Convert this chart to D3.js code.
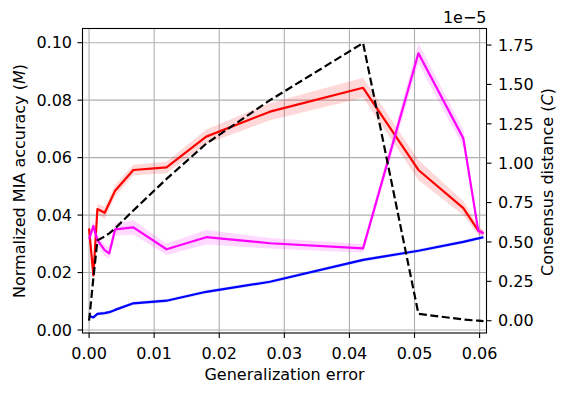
<!DOCTYPE html>
<html><head><meta charset="utf-8">
<script src="https://cdn.jsdelivr.net/npm/d3@7"></script>
<style>
html,body{margin:0;padding:0;background:#fff;}
svg text{font-family:"DejaVu Sans",sans-serif;fill:#000;}
</style></head>
<body>
<svg id="chart" width="568" height="395"></svg>
<script>
// ---- data ----
const genError = [0, 0.00066, 0.00128, 0.0024, 0.0031, 0.0040, 0.0068, 0.0119, 0.0180, 0.0278, 0.0421, 0.0506, 0.0575, 0.0598, 0.0606];
const redMean  = [0.0354, 0.0190, 0.0421, 0.0408, 0.0441, 0.0485, 0.0557, 0.0566, 0.0673, 0.0760, 0.0843, 0.0557, 0.0424, 0.0346, 0.0337];
const redStd   = [0.0015, 0.0010, 0.0018, 0.0022, 0.0020, 0.0020, 0.0018, 0.0020, 0.0025, 0.0030, 0.0035, 0.0035, 0.0025, 0.0015, 0.0010];
const magMean  = [0.0316, 0.0362, 0.0313, 0.0278, 0.0267, 0.0350, 0.0357, 0.0281, 0.0323, 0.0302, 0.0284, 0.0963, 0.0667, 0.0345, 0.0337];
const magStd   = [0.0015, 0.0018, 0.0020, 0.0020, 0.0020, 0.0022, 0.0025, 0.0020, 0.0025, 0.0018, 0.0015, 0.0035, 0.0030, 0.0012, 0.0010];
const blueMean = [0.0049, 0.0044, 0.0056, 0.0059, 0.0062, 0.0070, 0.0093, 0.0102, 0.0133, 0.0168, 0.0244, 0.0276, 0.0307, 0.0319, 0.0323];
const blueStd  = [0.0006, 0.0006, 0.0006, 0.0006, 0.0006, 0.0006, 0.0006, 0.0006, 0.0006, 0.0006, 0.0006, 0.0006, 0.0006, 0.0006, 0.0006];
const consensus = [0.0, 0.27, 0.51, 0.535, 0.555, 0.586, 0.70, 0.90, 1.124, 1.40, 1.763, 0.044, 0.008, 0.0, -0.003]; // x 1e-5
const xTicks = [0, 0.01, 0.02, 0.03, 0.04, 0.05, 0.06];
const yTicksL = [0, 0.02, 0.04, 0.06, 0.08, 0.10];
const yTicksR = [0, 0.25, 0.5, 0.75, 1.0, 1.25, 1.5, 1.75];

// ---- layout ----
const L = 82.5, R = 486.5, T = 28.5, B = 333;
const svg = d3.select("#chart");
const x = d3.scaleLinear().domain([-0.00101, 0.06106]).range([L, R]);
const yL = d3.scaleLinear().domain([-0.00104, 0.10494]).range([B, T]);
const yR = d3.scaleLinear().domain([-0.078, 1.855]).range([B, T]);

svg.append("defs").append("clipPath").attr("id","clip")
  .append("rect").attr("x",L).attr("y",T).attr("width",R-L).attr("height",B-T);

// grid
const grid = svg.append("g").attr("stroke","#b0b0b0").attr("stroke-width",1.1);
xTicks.forEach(t=>grid.append("line").attr("x1",x(t)).attr("x2",x(t)).attr("y1",T).attr("y2",B));
yTicksL.forEach(t=>grid.append("line").attr("x1",L).attr("x2",R).attr("y1",yL(t)).attr("y2",yL(t)));

const plot = svg.append("g").attr("clip-path","url(#clip)");
const idx = d3.range(genError.length);

function band(mean, std, color){
  const area = d3.area().x(i=>x(genError[i])).y0(i=>yL(mean[i]-std[i])).y1(i=>yL(mean[i]+std[i]));
  plot.append("path").attr("d",area(idx)).attr("fill",color).attr("fill-opacity",0.15).attr("stroke","none");
}
function line(vals, scale, color, dash){
  const ln = d3.line().x(i=>x(genError[i])).y(i=>scale(vals[i]));
  const p = plot.append("path").attr("d",ln(idx)).attr("fill","none").attr("stroke",color)
    .attr("stroke-width",2.2).attr("stroke-linejoin","round");
  if(dash) p.attr("stroke-dasharray",dash);
}
band(redMean, redStd, "#ff0000");
line(redMean, yL, "#ff0000");
band(magMean, magStd, "#ff00ff");
line(magMean, yL, "#ff00ff");
band(blueMean, blueStd, "#0000ff");
line(blueMean, yL, "#0000ff");
line(consensus, yR, "#000000", "8,3.5");

// spines
svg.append("rect").attr("x",L).attr("y",T).attr("width",R-L).attr("height",B-T)
  .attr("fill","none").attr("stroke","#000").attr("stroke-width",1.1);

// axes
const fs = 16;
const ax = svg.append("g");
xTicks.forEach(t=>{
  ax.append("line").attr("x1",x(t)).attr("x2",x(t)).attr("y1",B).attr("y2",B+5).attr("stroke","#000").attr("stroke-width",1.1);
  ax.append("text").attr("x",x(t)).attr("y",359).attr("text-anchor","middle").attr("font-size",fs).text(d3.format(".2f")(t));
});
yTicksL.forEach(t=>{
  ax.append("line").attr("x1",L-5).attr("x2",L).attr("y1",yL(t)).attr("y2",yL(t)).attr("stroke","#000").attr("stroke-width",1.1);
  ax.append("text").attr("x",72).attr("y",yL(t)).attr("dy","0.36em").attr("text-anchor","end").attr("font-size",fs).text(d3.format(".2f")(t));
});
yTicksR.forEach(t=>{
  ax.append("line").attr("x1",R).attr("x2",R+5).attr("y1",yR(t)).attr("y2",yR(t)).attr("stroke","#000").attr("stroke-width",1.1);
  ax.append("text").attr("x",498).attr("y",yR(t)).attr("dy","0.36em").attr("text-anchor","start").attr("font-size",fs).text(d3.format(".2f")(t));
});

// labels
svg.append("text").attr("x",(L+R)/2).attr("y",379.5).attr("text-anchor","middle").attr("font-size",fs).text("Generalization error");
const yl = svg.append("text").attr("transform","translate(24.5,181) rotate(-90)").attr("text-anchor","middle").attr("font-size",fs);
yl.append("tspan").text("Normalized MIA accuracy (");
yl.append("tspan").attr("font-style","italic").text("M");
yl.append("tspan").text(")");
const yr = svg.append("text").attr("transform","translate(553,182) rotate(-90)").attr("text-anchor","middle").attr("font-size",fs);
yr.append("tspan").text("Consensus distance (");
yr.append("tspan").attr("font-style","italic").text("C");
yr.append("tspan").text(")");
svg.append("text").attr("x",R).attr("y",23).attr("text-anchor","end").attr("font-size",fs).text("1e\u22125");
</script>
</body></html>
